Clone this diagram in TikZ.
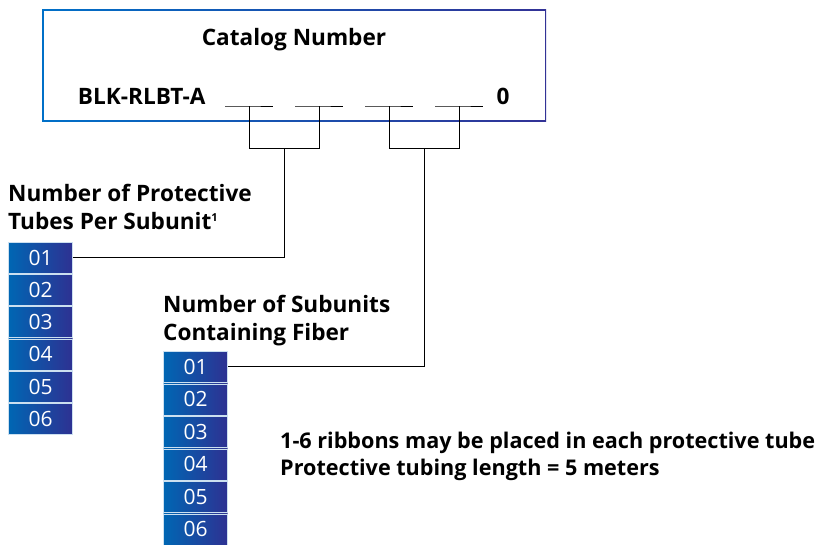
\documentclass[tikz,border=0pt]{standalone}
\usepackage{fontspec}
\setmainfont{Open Sans}
\usetikzlibrary{calc}
\definecolor{cellleft}{RGB}{0,102,179}
\definecolor{cellright}{RGB}{46,49,146}
\definecolor{frameleft}{RGB}{0,112,200}
\definecolor{frameright}{RGB}{50,50,150}
\tikzset{
  cell/.style={anchor=north west, minimum width=64pt, minimum height=31pt, inner sep=0pt,
    left color=cellleft, right color=cellright, draw=white!80!cellleft, line width=0.6pt,
    text=white, font=\fontsize{21}{21}\selectfont},
  head/.style={anchor=north west, align=left, inner sep=0pt,
    font=\bfseries\fontsize{22.6}{28}\selectfont},
  wire/.style={black, line width=1pt}
}
\begin{document}
\begin{tikzpicture}[x=1pt,y=-1pt]
\useasboundingbox (0,0) rectangle (818,544);
% catalog frame
\shade[left color=frameleft, right color=frameright] (42,9) rectangle (546,121);
\fill[white] (43.5,10.5) rectangle (544.5,119.5);
\node[font=\bfseries\fontsize{22.6}{22}\selectfont, anchor=base] (catalog) at (294,45) {Catalog Number};
\node[font=\bfseries\fontsize{22.6}{22}\selectfont, anchor=base east] (prefix) at (209,104) {BLK-RLBT-A};
\node[font=\bfseries\fontsize{22.6}{22}\selectfont, anchor=base] (zero) at (503,104) {0};
% blanks
\foreach \i/\x in {1/225,2/295,3/365,4/435}{
  \coordinate (blank\i) at (\x+24,106);
  \draw[wire] (\x,106) -- (blank\i) -- (\x+48,106);
}
\coordinate (fork1) at ($(blank1)!0.5!(blank2)+(0,42)$);
\coordinate (fork2) at ($(blank3)!0.5!(blank4)+(0,42)$);
\draw[wire] (blank1) -- ++(0,42) -| (blank2);
\draw[wire] (blank3) -- ++(0,42) -| (blank4);
% protective tubes
\node[head] (tubeshead) at (8,184) {Number of Protective\\Tubes Per Subunit{\fontsize{11}{11}\selectfont\raisebox{7.5pt}{1}}};
\foreach \n in {1,...,6}
  \node[cell] (tube\n) at (8.3,{241.7+32.3*(\n-1)}) {0\n};
% subunits
\node[head] (subhead) at (163,295) {Number of Subunits\\Containing Fiber};
\foreach \n in {1,...,6}
  \node[cell] (sub\n) at (163.3,{351+32.5*(\n-1)}) {0\n};
\draw[wire] (tube1.east) -| (fork1);
\draw[wire] (sub1.east) -| (fork2);
% notes
\node[head, font=\bfseries\fontsize{21.6}{27}\selectfont] (notes) at (280,432)
  {1-6 ribbons may be placed in each protective tube\\Protective tubing length = 5 meters};
\end{tikzpicture}
\end{document}
